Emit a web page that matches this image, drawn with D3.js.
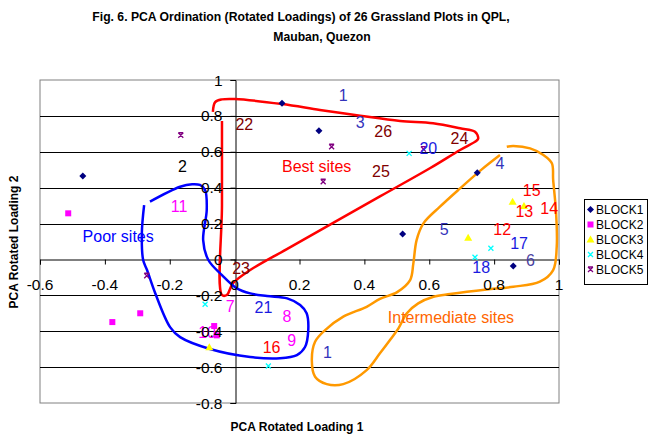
<!DOCTYPE html>
<html><head><meta charset="utf-8">
<script src="https://cdn.jsdelivr.net/npm/d3@7"></script>
<style>body{margin:0;background:#fff} svg{display:block} text{font-family:Arial,"Liberation Sans",sans-serif}</style>
</head><body><svg id="c" width="653" height="442"></svg>
<script>
// ---- data ----
const seriesNames = ["BLOCK1","BLOCK2","BLOCK3","BLOCK4","BLOCK5"];
const block1X = [-0.468, 0.146, 0.260, 0.518, 0.748, 0.859];
const block1Y = [0.465, 0.870, 0.717, 0.142, 0.483, -0.037];
const block2X = [-0.513, -0.377, -0.291, -0.063, -0.055];
const block2Y = [0.257, -0.349, -0.300, -0.371, -0.423];
const block3X = [-0.078, 0.857, 0.892, 0.720];
const block3Y = [-0.490, 0.322, 0.298, 0.121];
const block4X = [-0.091, 0.104, 0.538, 0.790, 0.741];
const block4Y = [-0.250, -0.594, 0.591, 0.062, 0.012];
const block5X = [-0.166, -0.271, 0.299, 0.273, 0.582];
const block5Y = [0.692, -0.091, 0.628, 0.433, 0.615];

const xTicks = [-0.6,-0.4,-0.2,0,0.2,0.4,0.6,0.8,1];
const xTickLabels = ["-0.6","-0.4","-0.2","0","0.2","0.4","0.6","0.8","1"];
const yTicks = [-0.8,-0.6,-0.4,-0.2,0,0.2,0.4,0.6,0.8,1];
const yTickLabels = ["-0.8","-0.6","-0.4","-0.2","0","0.2","0.4","0.6","0.8","1"];

// plot-number annotations (text, x, y in loading units)
const plotLabels = ["1","22","3","26","25","24","20","4","15","14","13","12","5","17","6","18","2","11","23","7","21","8","9","16","1","10"];
const plotLabelX = [0.335,0.030,0.387,0.458,0.451,0.693,0.597,0.818,0.916,0.970,0.893,0.825,0.646,0.877,0.912,0.760,-0.161,-0.171,0.020,-0.014,0.089,0.161,0.176,0.114,0.286,-0.085];
const plotLabelY = [0.916,0.753,0.762,0.717,0.489,0.675,0.619,0.536,0.387,0.285,0.270,0.168,0.170,0.090,-0.003,-0.044,0.517,0.294,-0.050,-0.260,-0.267,-0.314,-0.449,-0.490,-0.515,-0.403];
const plotLabelGroup = ["b","d","b","d","d","d","bb","b","r","r","r","r","b","bb","v","bb","k","m","d","m","bb","m","m","r","b","m"];

// site-group outlines (loading units)
const bestSites = [[-0.067,0.822],[-0.060,0.877],[-0.039,0.892],[0.001,0.894],[0.146,0.866],[0.263,0.833],[0.387,0.801],[0.510,0.772],[0.612,0.759],[0.695,0.731],[0.741,0.712],[0.751,0.675],[0.746,0.662],[0.695,0.610],[0.602,0.508],[0.448,0.351],[0.161,0.058],[0.048,-0.059],[-0.005,-0.132],[-0.024,-0.198],[-0.039,-0.198],[-0.039,0.300],[-0.039,0.772]];
const poorSites = [[-0.279,0.303],[-0.286,0.147],[-0.282,-0.003],[-0.270,-0.059],[-0.245,-0.187],[-0.199,-0.377],[-0.168,-0.433],[-0.076,-0.499],[0.048,-0.544],[0.140,-0.551],[0.192,-0.533],[0.217,-0.488],[0.227,-0.394],[0.222,-0.300],[0.202,-0.254],[0.162,-0.217],[0.100,-0.204],[0.048,-0.189],[0.007,-0.161],[-0.039,-0.087],[-0.081,-0.003],[-0.097,0.108],[-0.086,0.275],[-0.091,0.387],[-0.107,0.415],[-0.131,0.419],[-0.168,0.405],[-0.261,0.322]];
const intermediateSites = [[0.818,0.582],[0.762,0.502],[0.695,0.396],[0.633,0.294],[0.582,0.201],[0.561,0.108],[0.551,-0.022],[0.541,-0.115],[0.501,-0.182],[0.448,-0.220],[0.407,-0.264],[0.335,-0.319],[0.279,-0.394],[0.248,-0.459],[0.238,-0.561],[0.248,-0.654],[0.284,-0.695],[0.335,-0.695],[0.407,-0.617],[0.448,-0.523],[0.479,-0.449],[0.505,-0.384],[0.531,-0.300],[0.566,-0.245],[0.613,-0.208],[0.664,-0.193],[0.716,-0.180],[0.777,-0.167],[0.859,-0.152],[0.941,-0.124],[0.982,-0.059],[0.993,0.071],[0.991,0.259],[0.982,0.443],[0.978,0.536],[0.952,0.582],[0.911,0.619],[0.859,0.632],[0.839,0.628]];
const groupNames = ["Best sites","Poor sites","Intermediate sites"];
const groupLabelX = [0.253,-0.359,0.667];
const groupLabelY = [0.521,0.130,-0.321];

// ---- drawing ----
const svg = d3.select("#c");
const L=40, R=559, T=80, B=403;
const x = d3.scaleLinear().domain([-0.6,1]).range([L,R]);
const y = d3.scaleLinear().domain([-0.8,1]).range([B,T]);

// title
svg.append("text").attr("x",301).attr("y",21).attr("text-anchor","middle")
  .attr("font-weight","bold").attr("font-size","12.2px").text("Fig. 6.  PCA Ordination (Rotated Loadings) of 26 Grassland Plots in QPL,");
svg.append("text").attr("x",322).attr("y",41).attr("text-anchor","middle")
  .attr("font-weight","bold").attr("font-size","12.2px").text("Mauban, Quezon");

// plot area
svg.append("rect").attr("x",L).attr("y",T).attr("width",R-L).attr("height",B-T)
  .attr("fill","#fff").attr("stroke","#808080").attr("stroke-width",1);

// gridlines
svg.append("g").selectAll("line").data(yTicks.filter(v=>v>-0.8 && v<1 && v!==0)).join("line")
  .attr("x1",L).attr("x2",R).attr("y1",d=>Math.round(y(d))+0.5).attr("y2",d=>Math.round(y(d))+0.5)
  .attr("stroke","#000").attr("stroke-width",1);

// axes through zero
const y0 = Math.round(y(0))+0.5, x0 = Math.round(x(0))+0.5;
const xAxis = d3.axisBottom(x).tickValues(xTicks).tickSize(5).tickFormat((d,i)=>"");
const gx = svg.append("g").attr("transform",`translate(0,${y0})`).call(xAxis);
gx.select(".domain").attr("stroke","#000");
gx.selectAll(".tick line").attr("stroke","#000");
const yAxis = d3.axisLeft(y).tickValues(yTicks).tickSize(5).tickFormat((d,i)=>"");
const gy = svg.append("g").attr("transform",`translate(${x0},0)`).call(yAxis);
gy.select(".domain").attr("stroke","#000");
gy.selectAll(".tick line").attr("stroke","#000");

// outlines
const line = d3.line().x(d=>x(d[0])).y(d=>y(d[1])).curve(d3.curveCatmullRom.alpha(0.5));
svg.append("path").datum(bestSites).attr("d",line).attr("fill","none").attr("stroke","#ff0000").attr("stroke-width",2.5);
svg.append("path").datum(poorSites).attr("d",line).attr("fill","none").attr("stroke","#0000ff").attr("stroke-width",2.5);
svg.append("path").datum(intermediateSites).attr("d",line).attr("fill","none").attr("stroke","#ff9900").attr("stroke-width",2.5);

// markers
const colors = ["#000080","#ff00ff","#ffff00","#00ffff","#800080"];
function marker(g, k, cx, cy){
  if(k===0) g.append("path").attr("d",`M${cx},${cy-3.5}L${cx+3.5},${cy}L${cx},${cy+3.5}L${cx-3.5},${cy}Z`).attr("fill",colors[0]);
  else if(k===1) g.append("rect").attr("x",cx-3).attr("y",cy-3).attr("width",6).attr("height",6).attr("fill",colors[1]);
  else if(k===2) g.append("path").attr("d",`M${cx},${cy-4}L${cx+4},${cy+3}L${cx-4},${cy+3}Z`).attr("fill",colors[2]);
  else if(k===3) g.append("path").attr("d",`M${cx-2.5},${cy-2.5}L${cx+2.5},${cy+2.5}M${cx+2.5},${cy-2.5}L${cx-2.5},${cy+2.5}`).attr("stroke",colors[3]).attr("stroke-width",1.3);
  else g.append("path").attr("d",`M${cx-2.5},${cy-2.5}L${cx+2.5},${cy+2.5}M${cx+2.5},${cy-2.5}L${cx-2.5},${cy+2.5}M${cx-2.5},${cy-2.5}L${cx+2.5},${cy-2.5}`).attr("stroke",colors[4]).attr("stroke-width",1.3);
}
const seriesX = [block1X,block2X,block3X,block4X,block5X];
const seriesY = [block1Y,block2Y,block3Y,block4Y,block5Y];
const gm = svg.append("g");
seriesX.forEach((xs,k)=>xs.forEach((v,i)=>marker(gm,k,x(v),y(seriesY[k][i]))));

// plot-number labels
const labelColor = {b:"#3333bb",bb:"#1a1ae0",d:"#800000",r:"#ff0000",m:"#ff00ff",k:"#000000",v:"#4a3fa0"};
svg.append("g").selectAll("text").data(plotLabels).join("text")
  .attr("x",(d,i)=>x(plotLabelX[i])).attr("y",(d,i)=>y(plotLabelY[i])).attr("dy","0.36em")
  .attr("text-anchor","middle").attr("font-size","16px")
  .attr("fill",(d,i)=>labelColor[plotLabelGroup[i]]).text(d=>d);
const groupColors = ["#ff0000","#0000ff","#ff6600"];
svg.append("g").selectAll("text").data(groupNames).join("text")
  .attr("x",(d,i)=>x(groupLabelX[i])).attr("y",(d,i)=>y(groupLabelY[i])).attr("dy","0.36em")
  .attr("text-anchor","middle").attr("font-size","16px")
  .attr("fill",(d,i)=>groupColors[i]).text(d=>d);

// tick labels
svg.append("g").selectAll("text").data(xTicks).join("text")
  .attr("x",d=>x(d)).attr("y",y0+30).attr("text-anchor","middle").attr("font-size","15.5px")
  .text((d,i)=>xTickLabels[i]);
svg.append("g").selectAll("text").data(yTicks).join("text")
  .attr("x",x0-13).attr("y",d=>y(d)).attr("dy","0.36em").attr("text-anchor","end").attr("font-size","15.5px")
  .text((d,i)=>yTickLabels[i]);

// axis titles
svg.append("text").attr("x",297).attr("y",431).attr("text-anchor","middle").attr("font-weight","bold").attr("font-size","12px").text("PCA Rotated Loading 1");
svg.append("text").attr("transform","translate(18,242) rotate(-90)").attr("text-anchor","middle").attr("font-weight","bold").attr("font-size","12px").text("PCA Rotated Loading 2");

// legend
const lg = svg.append("g");
lg.append("rect").attr("x",584.5).attr("y",199.5).attr("width",63).attr("height",85).attr("fill","#fff").attr("stroke","#000");
seriesNames.forEach((n,k)=>{
  const cy = 209.5 + k*15;
  marker(lg,k,590.5,cy);
  lg.append("text").attr("x",596).attr("y",cy).attr("dy","0.36em").attr("font-size","12px").text(n);
});
</script></body></html>
